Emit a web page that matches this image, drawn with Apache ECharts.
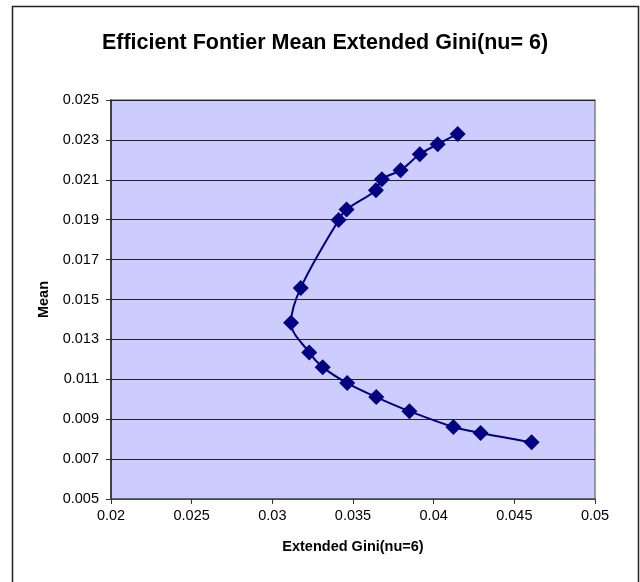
<!DOCTYPE html>
<html><head><meta charset="utf-8">
<script src="https://cdn.jsdelivr.net/npm/echarts@6/dist/echarts.min.js"></script>
<style>html,body{margin:0;padding:0;background:#fff}#c{width:640px;height:582px}</style>
</head><body><div id="c"></div>
<script>
const giniValues = [0.04149,0.04025,0.03914,0.03795,0.03679,0.03642,0.03460,0.03411,0.03176,0.03116,0.03229,0.03312,0.03464,0.03644,0.03850,0.04122,0.04291,0.04607];
const meanValues = [0.02330,0.02278,0.02228,0.02148,0.02103,0.02048,0.01951,0.01899,0.01558,0.01383,0.01234,0.01161,0.01081,0.01011,0.00940,0.00861,0.00831,0.00784];
const xTicks = {min:0.02, max:0.05, step:0.005};
const yTicks = {min:0.005, max:0.025, step:0.002};
const titleText = 'Efficient Fontier Mean Extended Gini(nu= 6)';
const xName = 'Extended Gini(nu=6)';
const yName = 'Mean';

const points = giniValues.map((g,i)=>[g, meanValues[i]]);
const font = 'Liberation Sans, Arial, sans-serif';
const chart = echarts.init(document.getElementById('c'), null, {renderer:'canvas'});
chart.setOption({
  animation:false,
  backgroundColor:'#fff',
  title:{text:titleText,left:320,top:27,textAlign:'center',
    textStyle:{fontFamily:font,fontSize:21.5,fontWeight:'bold',color:'#000'}},
  graphic:[{type:'rect',left:10,top:4,shape:{width:626,height:600},
    style:{fill:null,stroke:'#222',lineWidth:1.5},silent:true}],
  grid:{left:111,top:100,width:484,height:399,show:true,backgroundColor:'#CCCCFF',borderColor:'#808080',borderWidth:1.5},
  xAxis:{type:'value',min:xTicks.min,max:xTicks.max,interval:xTicks.step,
    name:xName,nameLocation:'middle',nameGap:40,
    nameTextStyle:{fontFamily:font,fontSize:14.5,fontWeight:'bold',color:'#000'},
    axisLine:{onZero:false,lineStyle:{color:'#555',width:1.5}},
    axisTick:{show:true,length:5,lineStyle:{color:'#333'}},
    axisLabel:{fontFamily:font,fontSize:14.5,color:'#000',margin:9,
      formatter:v=>String(parseFloat(v.toFixed(4)))},
    splitLine:{show:false}},
  yAxis:{type:'value',min:yTicks.min,max:yTicks.max,interval:yTicks.step,
    name:yName,nameLocation:'middle',nameGap:60,nameRotate:90,
    nameTextStyle:{fontFamily:font,fontSize:14.5,fontWeight:'bold',color:'#000'},
    axisLine:{onZero:false,lineStyle:{color:'#222',width:1.5}},
    axisTick:{show:true,length:5,lineStyle:{color:'#333'}},
    axisLabel:{fontFamily:font,fontSize:14.5,color:'#000',margin:12,
      formatter:v=>parseFloat(v.toFixed(4)).toFixed(3)},
    splitLine:{show:true,lineStyle:{color:'#222',width:1}}},
  series:[{type:'line',data:points,smooth:0.35,symbol:'diamond',symbolSize:[16,16],
    lineStyle:{color:'#000080',width:2},itemStyle:{color:'#000080'}}]
});
</script></body></html>
